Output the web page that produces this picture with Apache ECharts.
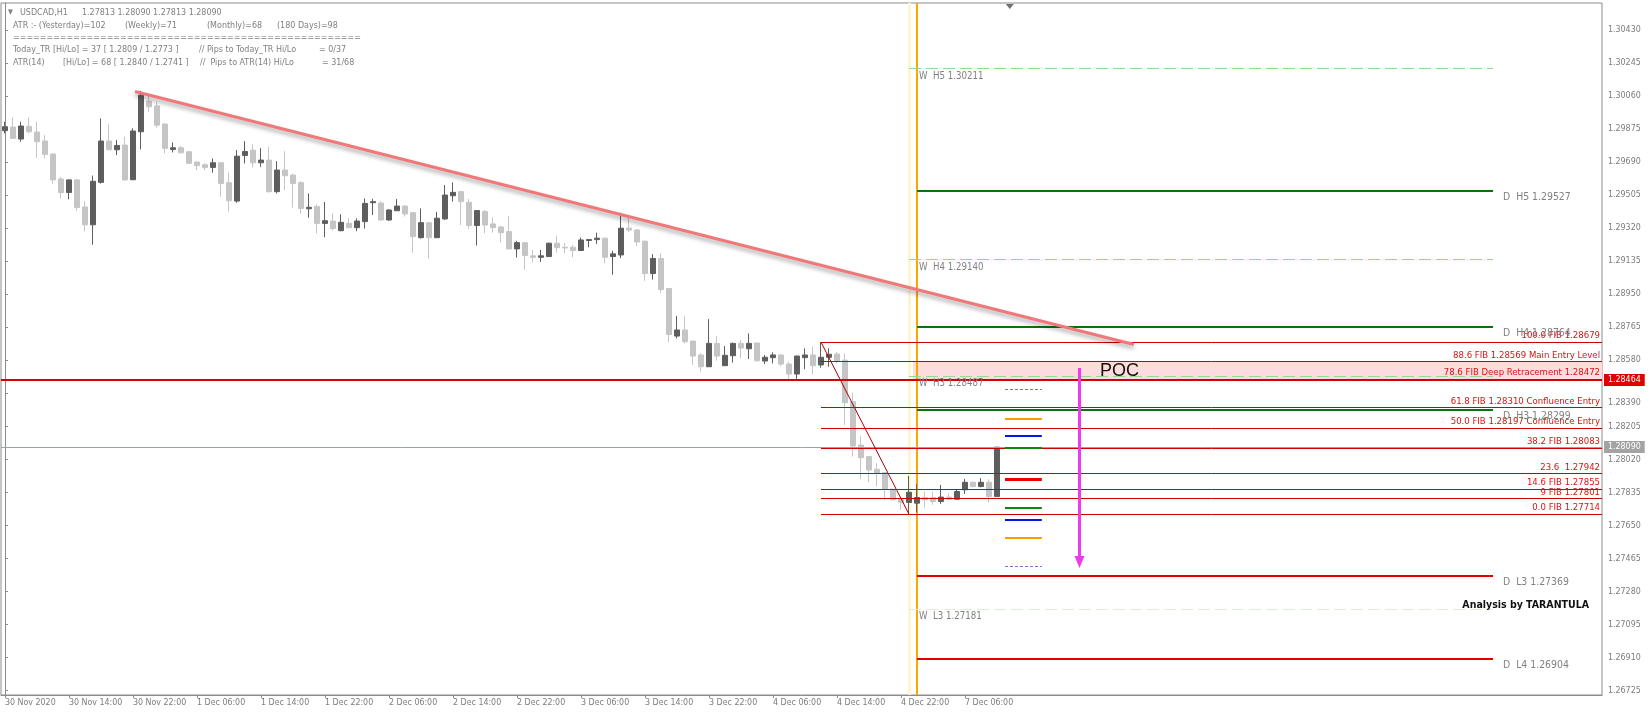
<!DOCTYPE html>
<html>
<head>
<meta charset="utf-8">
<title>USDCAD H1</title>
<script src="https://cdn.jsdelivr.net/npm/echarts@6.0.0/dist/echarts.min.js"></script>
<style>
html,body{margin:0;padding:0;background:#ffffff;}
#chart{width:1650px;height:716px;}
</style>
</head>
<body>
<div id="chart"></div>
<script>
// ---------------- data (H1 bars, index 0 = 30 Nov 06:00) ----------------
const barOpen = [
1.29865,1.29885,1.29818,1.29889,1.29857,1.29807,1.29734,1.29594,1.29518,1.29589,
1.29437,1.29337,1.29575,1.29807,1.29758,1.29784,1.29590,1.29859,1.30031,1.30004,
1.29902,1.29760,1.29769,1.29747,1.29689,1.29674,1.29659,1.29685,1.29573,1.29470,
1.29726,1.29756,1.29685,1.29700,1.29523,1.29644,1.29616,1.29573,1.29427,1.29439,
1.29345,1.29358,1.29304,1.29345,1.29321,1.29355,1.29461,1.29459,1.29364,1.29416,
1.29442,1.29405,1.29265,1.29349,1.29265,1.29370,1.29500,1.29523,1.29463,1.29333,
1.29411,1.29342,1.29325,1.29299,1.29202,1.29237,1.29163,1.29155,1.29159,1.29234,
1.29211,1.29211,1.29193,1.29249,1.29254,1.29262,1.29159,1.29168,1.29318,1.29308,
1.29245,1.29064,1.29148,1.28980,1.28713,1.28747,1.28685,1.28607,1.28541,1.28672,
1.28547,1.28603,1.28672,1.28642,1.28674,1.28573,1.28592,1.28607,1.28556,1.28500,
1.28592,1.28607,1.28551,1.28594,1.28612,1.28578,1.28345,1.28102,1.28037,1.27966,
1.27947,1.27854,1.27798,1.27780,1.27776,1.27808,1.27808,1.27785,1.27810,1.27798,
1.27851,1.27893,1.27869,1.27893,1.27813];
const barClose = [
1.29887,1.29822,1.29891,1.29859,1.29803,1.29732,1.29589,1.29518,1.29589,1.29434,
1.29337,1.29581,1.29807,1.29758,1.29782,1.29589,1.29863,1.30064,1.29999,1.29896,
1.29766,1.29769,1.29741,1.29682,1.29669,1.29659,1.29685,1.29569,1.29472,1.29722,
1.29748,1.29685,1.29700,1.29523,1.29644,1.29612,1.29569,1.29429,1.29435,1.29345,
1.29360,1.29316,1.29351,1.29321,1.29358,1.29457,1.29467,1.29364,1.29420,1.29442,
1.29398,1.29271,1.29349,1.29265,1.29374,1.29504,1.29519,1.29467,1.29333,1.29417,
1.29336,1.29321,1.29293,1.29202,1.29237,1.29165,1.29154,1.29163,1.29234,1.29209,
1.29207,1.29193,1.29252,1.29254,1.29262,1.29155,1.29174,1.29318,1.29308,1.29241,
1.29064,1.29148,1.28974,1.28722,1.28747,1.28681,1.28601,1.28541,1.28672,1.28601,
1.28605,1.28672,1.28646,1.28672,1.28575,1.28594,1.28607,1.28556,1.28500,1.28601,
1.28607,1.28547,1.28594,1.28611,1.28575,1.28339,1.28097,1.28031,1.27962,1.27944,
1.27854,1.27795,1.27780,1.27837,1.27808,1.27795,1.27785,1.27810,1.27798,1.27841,
1.27893,1.27869,1.27893,1.27813,1.28090];
const barLow = [
1.29850,1.29818,1.29803,1.29850,1.29713,1.29710,1.29568,1.29486,1.29480,1.29415,
1.29299,1.29225,1.29568,1.29755,1.29728,1.29585,1.29587,1.29760,1.29971,1.29881,
1.29738,1.29743,1.29738,1.29678,1.29643,1.29643,1.29629,1.29495,1.29411,1.29461,
1.29681,1.29659,1.29662,1.29517,1.29513,1.29532,1.29433,1.29401,1.29377,1.29289,
1.29267,1.29304,1.29301,1.29317,1.29301,1.29316,1.29392,1.29360,1.29360,1.29415,
1.29383,1.29181,1.29260,1.29148,1.29262,1.29364,1.29467,1.29336,1.29314,1.29221,
1.29290,1.29293,1.29237,1.29200,1.29154,1.29085,1.29126,1.29129,1.29157,1.29181,
1.29178,1.29155,1.29191,1.29211,1.29230,1.29122,1.29057,1.29150,1.29297,1.29217,
1.29023,1.29030,1.28955,1.28678,1.28700,1.28672,1.28551,1.28514,1.28540,1.28575,
1.28545,1.28564,1.28588,1.28584,1.28569,1.28556,1.28560,1.28545,1.28463,1.28473,
1.28527,1.28499,1.28536,1.28541,1.28560,1.28214,1.28037,1.27910,1.27893,1.27869,
1.27795,1.27791,1.27739,1.27714,1.27724,1.27748,1.27767,1.27772,1.27795,1.27795,
1.27828,1.27865,1.27865,1.27780,1.27813];
const barHigh = [
1.29915,1.29939,1.29915,1.29939,1.29915,1.29840,1.29738,1.29605,1.29592,1.29592,
1.29471,1.29613,1.29934,1.29902,1.29812,1.29831,1.29878,1.30088,1.30070,1.30027,
1.29906,1.29799,1.29779,1.29749,1.29691,1.29682,1.29709,1.29687,1.29631,1.29756,
1.29806,1.29789,1.29767,1.29774,1.29694,1.29750,1.29625,1.29582,1.29513,1.29452,
1.29465,1.29401,1.29396,1.29373,1.29373,1.29485,1.29483,1.29470,1.29424,1.29482,
1.29448,1.29409,1.29429,1.29351,1.29409,1.29560,1.29575,1.29525,1.29482,1.29420,
1.29420,1.29379,1.29331,1.29387,1.29247,1.29239,1.29196,1.29196,1.29237,1.29275,
1.29234,1.29225,1.29265,1.29258,1.29293,1.29264,1.29191,1.29405,1.29383,1.29311,
1.29249,1.29172,1.29176,1.28982,1.28825,1.28825,1.28687,1.28616,1.28808,1.28713,
1.28657,1.28676,1.28691,1.28728,1.28676,1.28607,1.28622,1.28612,1.28569,1.28603,
1.28644,1.28653,1.28679,1.28644,1.28625,1.28615,1.28395,1.28153,1.28037,1.28000,
1.27947,1.27858,1.27813,1.27929,1.27884,1.27841,1.27841,1.27878,1.27832,1.27851,
1.27912,1.27897,1.27916,1.27910,1.28090];

const timeTickBars = [0,8,16,24,32,40,48,56,64,72,80,88,96,104,112,120];
const timeTickLabels = ['30 Nov 2020','30 Nov 14:00','30 Nov 22:00','1 Dec 06:00','1 Dec 14:00','1 Dec 22:00',
  '2 Dec 06:00','2 Dec 14:00','2 Dec 22:00','3 Dec 06:00','3 Dec 14:00','3 Dec 22:00','4 Dec 06:00',
  '4 Dec 14:00','4 Dec 22:00','7 Dec 06:00'];
const priceTicks = [1.30430,1.30245,1.30060,1.29875,1.29690,1.29505,1.29320,1.29135,1.28950,1.28765,1.28580,
  1.28390,1.28205,1.28020,1.27835,1.27650,1.27465,1.27280,1.27095,1.26910,1.26725];

const fibValues = [1.28679,1.28569,1.28472,1.28310,1.28197,1.28083,1.27942,1.27855,1.27801,1.27714];
const fibNames = ['100.0 FIB 1.28679','88.6 FIB 1.28569 Main Entry Level','78.6 FIB Deep Retracement 1.28472',
  '61.8 FIB 1.28310 Confluence Entry','50.0 FIB 1.28197 Confluence Entry','38.2 FIB 1.28083','23.6  1.27942',
  '14.6 FIB 1.27855','9 FIB 1.27801','0.0 FIB 1.27714'];
const fibSwingBars = [102, 113];
const fibSwingPrices = [1.28679, 1.27714];

const weeklyValues = [1.30211, 1.29140, 1.28487, 1.27181];
const weeklyNames = ['W  H5 1.30211','W  H4 1.29140','W  H3 1.28487','W  L3 1.27181'];
const dailyValues = [1.29527, 1.28764, 1.28299, 1.27369, 1.26904];
const dailyNames = ['D  H5 1.29527','D  H4 1.28764','D  H3 1.28299','D  L3 1.27369','D  L4 1.26904'];
const pivotBars = [113, 114, 186];          // weekly start, daily/week-open start, end

const entryLevel = 1.28464;
const lastPrice = 1.28090;
const pocBand = [1.28569, 1.28464];
const trendBars = [16.25, 141.1];
const trendPrices = [1.30085, 1.28666];
const arrowBar = 134.25;
const arrowPrices = [1.28534, 1.27412];
const pocLabelAt = [136.9, 1.28517];
const projValues = [1.28411, 1.28248, 1.28153, 1.28085, 1.27911, 1.27749, 1.27681, 1.27580, 1.27418];
const projBars = [125, 129.6];
const shiftMarkBar = 125.6;

// ---------------- layout / style ----------------
const X_MIN = -0.5, X_MAX = 199.625;
const Y_MIN = 1.26700, Y_MAX = 1.30581;
const FONT = "'DejaVu Sans Condensed','Liberation Sans Narrow','DejaVu Sans',sans-serif";
const GREY = '#7c7c7c';
const FRAME = '#8c8c8c';

function crisp(v, w) { return (w % 2 === 1) ? Math.floor(v) + 0.5 : Math.round(v); }

function segSeries(id, rows, styles, z) {
  return {
    type: 'custom', id: id, z: z, silent: true, clip: true,
    data: rows, encode: {x: [0, 2], y: [1, 3]},
    renderItem: function (params, api) {
      const s = styles[params.dataIndex] || styles[0];
      const a = api.coord([api.value(0), api.value(1)]);
      const b = api.coord([api.value(2), api.value(3)]);
      let x1 = a[0], y1 = a[1], x2 = b[0], y2 = b[1];
      if (Math.abs(y1 - y2) < 0.01) { y1 = y2 = crisp(y1, s.w); }
      if (Math.abs(x1 - x2) < 0.01) { x1 = x2 = crisp(x1, s.w); }
      return {
        type: 'line', shape: {x1: x1, y1: y1, x2: x2, y2: y2},
        style: {stroke: s.c, lineWidth: s.w, lineDash: s.d || null,
          shadowBlur: s.sb || 0, shadowColor: s.sc || 'transparent', shadowOffsetY: s.so || 0}
      };
    }
  };
}

function textSeries(id, points, texts, st, z, clip) {
  return {
    type: 'custom', id: id, z: z, silent: true, clip: clip !== false,
    data: points, encode: {x: 0, y: 1},
    renderItem: function (params, api) {
      const p = api.coord([api.value(0), api.value(1)]);
      const bg = Array.isArray(st.bg) ? st.bg[params.dataIndex] : st.bg;
      return {
        type: 'text', x: Math.round(p[0] + st.dx), y: Math.round(p[1] + st.dy),
        style: {text: texts[params.dataIndex], fill: st.fill, fontSize: st.size, fontFamily: st.family || FONT,
          fontWeight: st.weight || 'normal', align: st.align, verticalAlign: st.va,
          backgroundColor: bg || null, padding: st.pad || 0}
      };
    }
  };
}

const candles = barOpen.map((o, i) => [i, o, barClose[i], barLow[i], barHigh[i]]);

const weeklyColors = ['#92dc92', '#92dc92', '#92dc92', '#dfeed6'];
const dailyColors = ['#0b730b', '#0b730b', '#0b730b', '#dd0000', '#dd0000'];
const projStyles = [
  {c: '#7d6ad8', w: 1, d: [3, 2]}, {c: '#ff9a00', w: 2}, {c: '#0018e6', w: 2}, {c: '#0a8a0a', w: 2},
  {c: '#ee0000', w: 3}, {c: '#0a8a0a', w: 2}, {c: '#0018e6', w: 2}, {c: '#ff9a00', w: 2}, {c: '#7d6ad8', w: 1, d: [3, 2]}
];

const series = [
  // POC zone
  {
    type: 'custom', id: 'poc', z: 1, silent: true, clip: true,
    data: [[pivotBars[0] + 0.5, pocBand[0], X_MAX, pocBand[1]]], encode: {x: [0, 2], y: [1, 3]},
    renderItem: function (params, api) {
      const a = api.coord([api.value(0), api.value(1)]);
      const b = api.coord([api.value(2), api.value(3)]);
      return {type: 'rect', shape: {x: a[0], y: a[1], width: b[0] - a[0], height: b[1] - a[1]},
        style: {fill: '#fcdcdc'}};
    }
  },
  // vertical separators
  segSeries('vlines', [[pivotBars[0], Y_MIN, pivotBars[0], Y_MAX], [pivotBars[1], Y_MIN, pivotBars[1], Y_MAX]],
    [{c: '#fcf6d0', w: 3}, {c: '#ffa500', w: 2}], 1),
  // candles
  {
    type: 'candlestick', id: 'bars', z: 2, silent: true,
    data: candles, encode: {x: 0, y: [1, 2, 3, 4]},
    barWidth: 5,
    itemStyle: {color: '#5e5e5e', color0: '#c5c5c5', borderColor: '#5e5e5e', borderColor0: '#c5c5c5', borderWidth: 1}
  },
  // full width lines
  segSeries('levels', [[X_MIN, lastPrice, X_MAX, lastPrice], [X_MIN, entryLevel, X_MAX, entryLevel]],
    [{c: '#96a3a8', w: 1}, {c: '#d80000', w: 2}], 3),
  // weekly pivots
  segSeries('weekly', weeklyValues.map(v => [pivotBars[0], v, pivotBars[2], v]),
    weeklyValues.map((v, i) => ({c: weeklyColors[i], w: 1, d: [12, 5]})), 3),
  // daily pivots
  segSeries('daily', dailyValues.map(v => [pivotBars[1], v, pivotBars[2], v]),
    dailyValues.map((v, i) => ({c: dailyColors[i], w: 2})), 3),
  // fib levels
  segSeries('fib', fibValues.map(v => [fibSwingBars[0], v, X_MAX, v]),
    fibValues.map(() => ({c: '#cc0000', w: 1})), 4),
  segSeries('fibSwing', [[fibSwingBars[0], fibSwingPrices[0], fibSwingBars[1], fibSwingPrices[1]]],
    [{c: '#b00000', w: 1}], 4),
  // projection dashes
  segSeries('proj', projValues.map(v => [projBars[0], v, projBars[1], v]), projStyles, 4),
  // trend line
  segSeries('trend', [[trendBars[0], trendPrices[0], trendBars[1], trendPrices[1]]],
    [{c: '#f07878', w: 3, sb: 4, sc: 'rgba(0,0,0,0.35)', so: 3}], 5),
  // arrow
  {
    type: 'custom', id: 'arrow', z: 5, silent: true, clip: true,
    data: [[arrowBar, arrowPrices[0], arrowBar, arrowPrices[1]]], encode: {x: [0, 2], y: [1, 3]},
    renderItem: function (params, api) {
      const a = api.coord([api.value(0), api.value(1)]);
      const b = api.coord([api.value(2), api.value(3)]);
      const x = Math.round(a[0]) + 0.5;
      return {type: 'group', children: [
        {type: 'line', shape: {x1: x, y1: a[1], x2: x, y2: b[1] - 10}, style: {stroke: '#ee3aee', lineWidth: 3}},
        {type: 'polygon', shape: {points: [[x - 5, b[1] - 12], [x + 5, b[1] - 12], [x, b[1]]]}, style: {fill: '#ee3aee'}}
      ]};
    }
  },
  // chart shift marker
  {
    type: 'custom', id: 'shift', z: 6, silent: true, clip: false,
    data: [[shiftMarkBar, Y_MAX]], encode: {x: 0, y: 1},
    renderItem: function (params, api) {
      const p = api.coord([api.value(0), api.value(1)]);
      return {type: 'polygon', shape: {points: [[p[0] - 4, p[1] + 1], [p[0] + 4, p[1] + 1], [p[0], p[1] + 6]]},
        style: {fill: '#707070'}};
    }
  },
  // texts
  textSeries('fibText', fibValues.map(v => [X_MAX, v]), fibNames,
    {dx: -2, dy: -1, fill: '#dd1111', size: 9.5, align: 'right', va: 'bottom'}, 7),
  textSeries('weeklyText', weeklyValues.map(v => [pivotBars[1], v]), weeklyNames,
    {dx: 2, dy: 2, fill: '#808080', size: 9.6, align: 'left', va: 'top'}, 7),
  textSeries('dailyText', dailyValues.map(v => [pivotBars[2], v]), dailyNames,
    {dx: 10, dy: 1, fill: '#808080', size: 10.4, align: 'left', va: 'top'}, 7),
  textSeries('pocText', [pocLabelAt], ['POC'],
    {dx: 0, dy: 0, fill: '#111111', size: 18, family: "'Liberation Sans',Arial,sans-serif", align: 'left', va: 'middle'}, 7),
  textSeries('tags', [[X_MAX, entryLevel], [X_MAX, lastPrice]], ['1.28464', '1.28090'],
    {dx: 2, dy: 0, fill: '#ffffff', size: 8.8, align: 'left', va: 'middle', bg: ['#e00000', '#a3a3a3'], pad: [2, 4, 1, 4]}, 8, false)
];

const info = [
  ['\u25BC', 8, 12.5, 7], ['USDCAD,H1', 20, 12.5], ['1.27813 1.28090 1.27813 1.28090', 82, 12.5],
  ['ATR :- (Yesterday)=102', 13, 25.5], ['(Weekly)=71', 125, 25.5], ['(Monthly)=68', 207, 25.5], ['(180 Days)=98', 277, 25.5],
  ['='.repeat(52), 13, 37.5],
  ['Today_TR [Hi/Lo] = 37 [ 1.2809 / 1.2773 ]', 13, 50], ['// Pips to Today_TR Hi/Lo', 199, 50], ['= 0/37', 319, 50],
  ['ATR(14)', 13, 62.5], ['[Hi/Lo] = 68 [ 1.2840 / 1.2741 ]', 63, 62.5], ['//  Pips to ATR(14) Hi/Lo', 200, 62.5], ['= 31/68', 322, 62.5]
];
const graphics = info.map(t => ({
  type: 'text', x: t[1], y: t[2], silent: true, z: 10,
  style: {text: t[0], fill: '#808080', fontSize: t[3] || 8.9, fontFamily: FONT, verticalAlign: 'middle', align: 'left'}
}));
graphics.push({
  type: 'text', x: 1589, y: 605, silent: true, z: 10,
  style: {text: 'Analysis by TARANTULA', fill: '#111111', fontSize: 10.5, fontWeight: 'bold', fontFamily: FONT,
    verticalAlign: 'middle', align: 'right'}
});

const shifted = [1.28390];
const chart = echarts.init(document.getElementById('chart'), null, {renderer: 'canvas'});
chart.setOption({
  animation: false,
  backgroundColor: '#ffffff',
  grid: {left: 1, right: 48, top: 3, bottom: 21, show: true, borderColor: FRAME, borderWidth: 1, backgroundColor: '#ffffff'},
  xAxis: {
    type: 'value', min: X_MIN, max: X_MAX,
    axisLine: {show: true, onZero: false, lineStyle: {color: FRAME, width: 1}},
    axisTick: {show: true, length: 3, customValues: timeTickBars, lineStyle: {color: FRAME}},
    axisLabel: {
      show: true, customValues: timeTickBars, align: 'left', margin: 3, color: GREY, fontSize: 8.8, fontFamily: FONT,
      formatter: function (v) { const k = timeTickBars.indexOf(Math.round(v)); return k >= 0 ? timeTickLabels[k] : ''; }
    },
    splitLine: {show: false}
  },
  yAxis: {
    type: 'value', position: 'right', min: Y_MIN, max: Y_MAX,
    axisLine: {show: true, lineStyle: {color: FRAME, width: 1}},
    axisTick: {show: true, length: 3, customValues: priceTicks, lineStyle: {color: FRAME}},
    axisLabel: {
      show: true, customValues: priceTicks, margin: 6, color: GREY, fontSize: 8.8, fontFamily: FONT,
      formatter: function (v) {
        const s = v.toFixed(5);
        return shifted.some(x => Math.abs(x - v) < 1e-7) ? '{sh|' + s + '}' : s;
      },
      rich: {sh: {padding: [19, 0, 0, 0], color: GREY, fontSize: 8.8, fontFamily: FONT}}
    },
    splitLine: {show: false}
  },
  graphic: graphics,
  series: series
});
</script>
</body>
</html>
